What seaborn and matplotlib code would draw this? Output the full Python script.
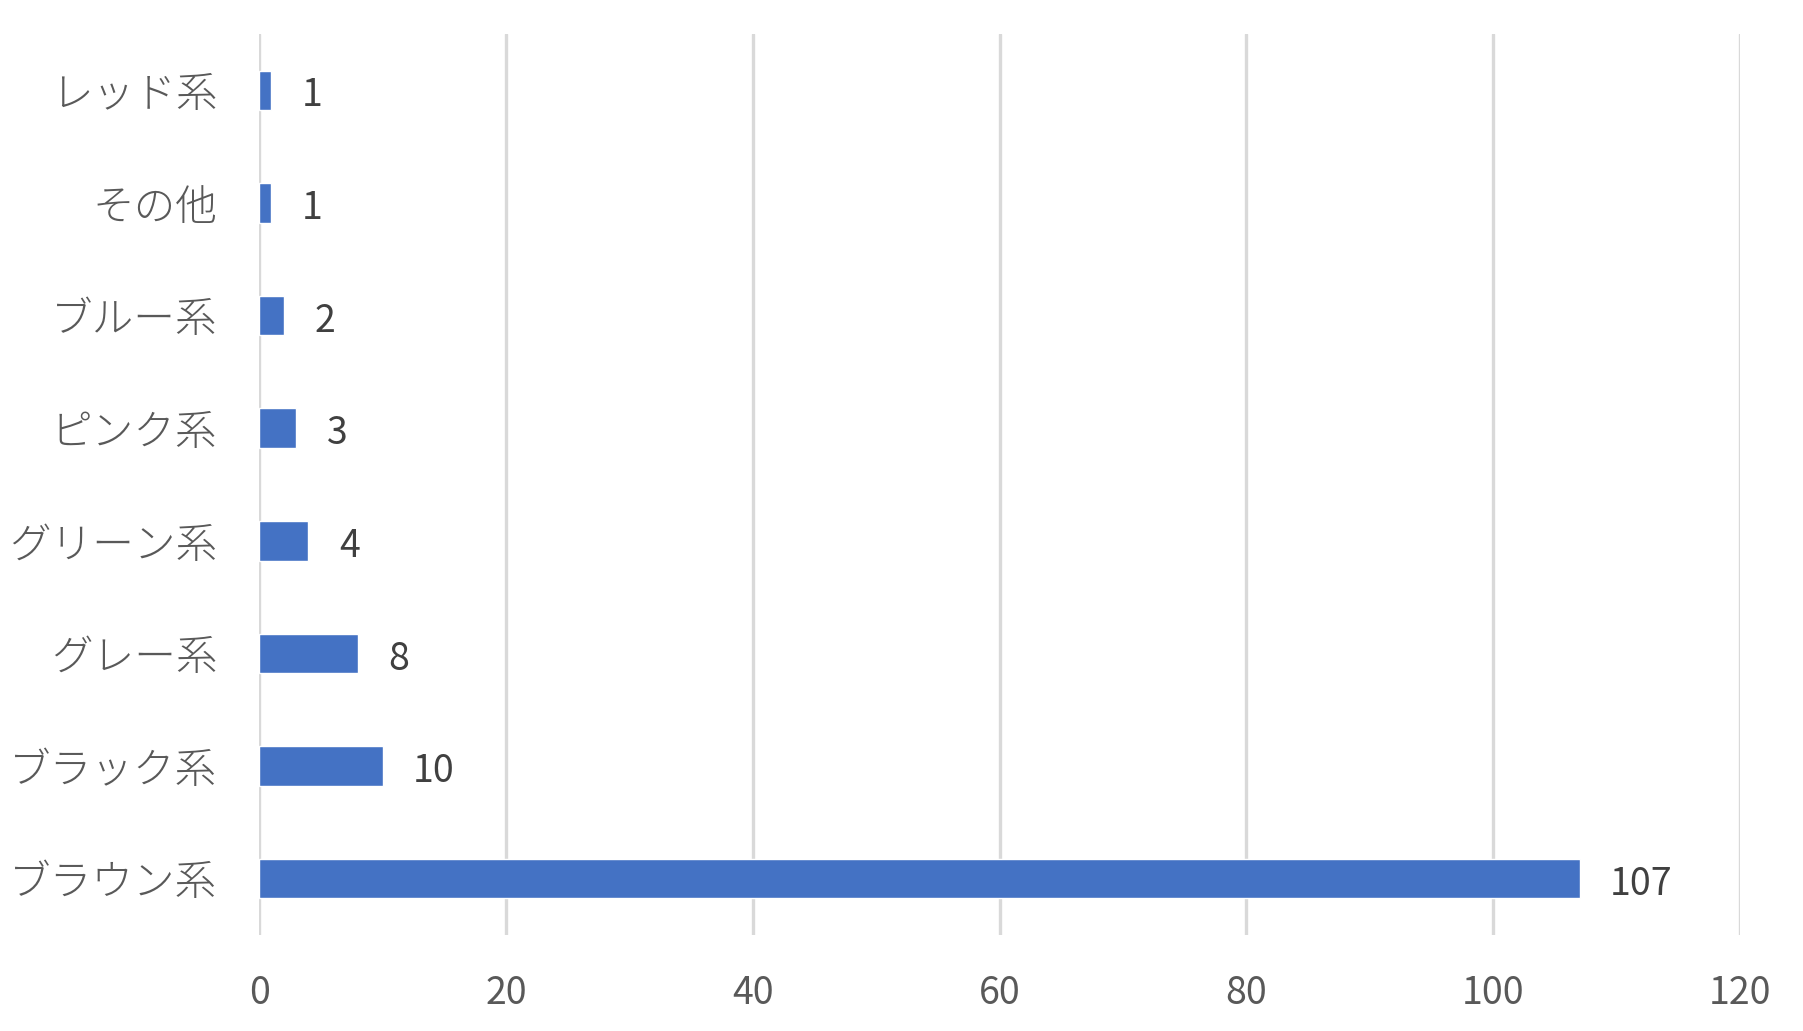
"""
Horizontal bar chart: counts per colour family.
"""
import matplotlib
matplotlib.use("Agg")
import matplotlib.pyplot as plt
import seaborn as sns
import pandas as pd

# data, top to bottom as in the chart
categories = ["レッド系", "その他", "ブルー系", "ピンク系", "グリーン系",
              "グレー系", "ブラック系", "ブラウン系"]
counts = [1, 1, 2, 3, 4, 8, 10, 107]
x_ticks = [0, 20, 40, 60, 80, 100, 120]

sns.set_theme(style="white")
plt.rcParams["font.family"] = ["Noto Sans CJK JP", "DejaVu Sans"]

df = pd.DataFrame({"category": categories, "count": counts})

fig = plt.figure(figsize=(18.03, 10.31), dpi=100)
ax = fig.add_axes([0.1437, 0.0931, 0.8214, 0.8739])

sns.barplot(data=df, x="count", y="category", orient="h", color="#4472C4",
            width=0.35, saturation=1, ax=ax, zorder=3)

ax.set_xlim(0, 120)
ax.set_xticks(x_ticks)
ax.set_xticklabels([str(t) for t in x_ticks])
ax.set_xlabel("")
ax.set_ylabel("")

# vertical grid lines only
ax.grid(axis="x", color="#D9D9D9", linewidth=2.4, zorder=0)
ax.grid(axis="y", visible=False)
for s in ax.spines.values():
    s.set_visible(False)

ax.tick_params(axis="x", length=0, pad=28, labelsize=27, labelcolor="#595959")
ax.tick_params(axis="y", length=0, pad=30, labelsize=30, labelcolor="#595959")
for lbl in ax.get_yticklabels():
    lbl.set_fontweight("light")

# value labels just right of each bar, nudged down a little
for c in ax.containers:
    labels = ax.bar_label(c, padding=22, fontsize=27, color="#404040")
    for t in labels:
        x, y = t.xyann
        t.xyann = (x, y - 4)

fig.savefig("out.png", dpi=100)
